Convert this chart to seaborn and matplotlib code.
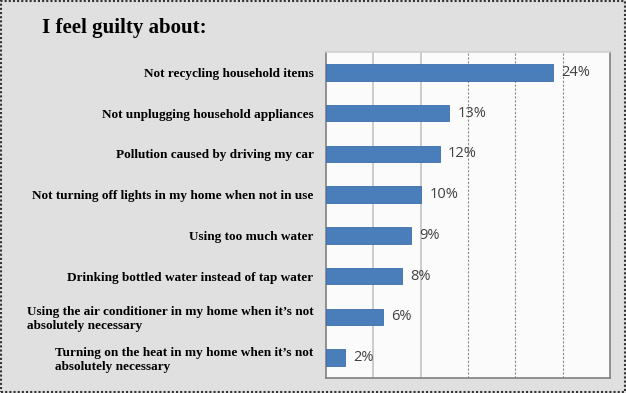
import matplotlib
matplotlib.use("Agg")
import matplotlib.pyplot as plt
import seaborn as sns
import pandas as pd
from matplotlib.ticker import MultipleLocator, FixedLocator

items = [
    "Not recycling household items",
    "Not unplugging household appliances",
    "Pollution caused by driving my car",
    "Not turning off lights in my home when not in use",
    "Using too much water",
    "Drinking bottled water instead of tap water",
    "Using the air conditioner in my home when it\u2019s not\nabsolutely necessary",
    "Turning on the heat in my home when it\u2019s not\nabsolutely necessary",
]
percent = [24, 13, 12, 10, 9, 8, 6, 2]

df = pd.DataFrame({"item": items, "pct": percent})

sns.set_style("white")
plt.rcParams["font.family"] = ["Liberation Serif", "DejaVu Serif"]

fig = plt.figure(figsize=(6.26, 3.93), dpi=100)
fig.patch.set_facecolor("#e0e0e0")
ax = fig.add_axes([326 / 626, 1 - 378 / 393, 284 / 626, 326 / 393])
ax.set_facecolor("#fbfbfb")

sns.barplot(data=df, x="pct", y="item", color="#4a7ebb", saturation=1,
            width=0.4, edgecolor="#3d6eab", linewidth=0.6, ax=ax, zorder=3)

ax.set_xlim(0, 30)
ax.set_ylim(7.5, -0.5)
ax.xaxis.set_major_locator(MultipleLocator(5))
ax.set_xticklabels([])
ax.tick_params(axis="x", length=0)
for i, v in enumerate([5, 10, 15, 20, 25]):
    if i < 2:
        ax.axvline(v, color="#c4c4c4", lw=1.2, zorder=1)
    else:
        ax.axvline(v, color="#8c8c8c", lw=0.8, ls=(0, (2, 1.5)), zorder=1)

ax.set_xlabel("")
ax.set_ylabel("")
ax.tick_params(axis="y", length=0, pad=9)
ax.yaxis.set_minor_locator(FixedLocator([i + 0.5 for i in range(-1, 8)]))
ax.tick_params(axis="y", which="minor", length=4, color="#808080", direction="out")
for lab in ax.get_yticklabels():
    lab.set_fontweight("bold")
    lab.set_fontsize(9.5)
    lab.set_multialignment("left")
    lab.set_color("black")

ax.spines["top"].set_color("#d0d0d0")
ax.spines["left"].set_color("#808080")
ax.spines["right"].set_color("#808080")
ax.spines["bottom"].set_color("#808080")
for s in ax.spines.values():
    s.set_linewidth(1.2)

for i, v in enumerate(percent):
    ax.text(v + 0.9, i, f"{v}%", va="center", ha="left", fontsize=10.5,
            color="#404040", family=["Open Sans", "DejaVu Sans"])

fig.text(42 / 626, 1 - 28 / 393, "I feel guilty about:", fontsize=15,
         fontweight="bold", va="center", ha="left", color="black")

border = plt.Rectangle((0.002, 0.003), 0.996, 0.994, transform=fig.transFigure,
                       fill=False, edgecolor="#333333", lw=1.5, ls=(0, (1, 1)))
fig.add_artist(border)

fig.savefig("out.png", dpi=100, facecolor=fig.get_facecolor())
